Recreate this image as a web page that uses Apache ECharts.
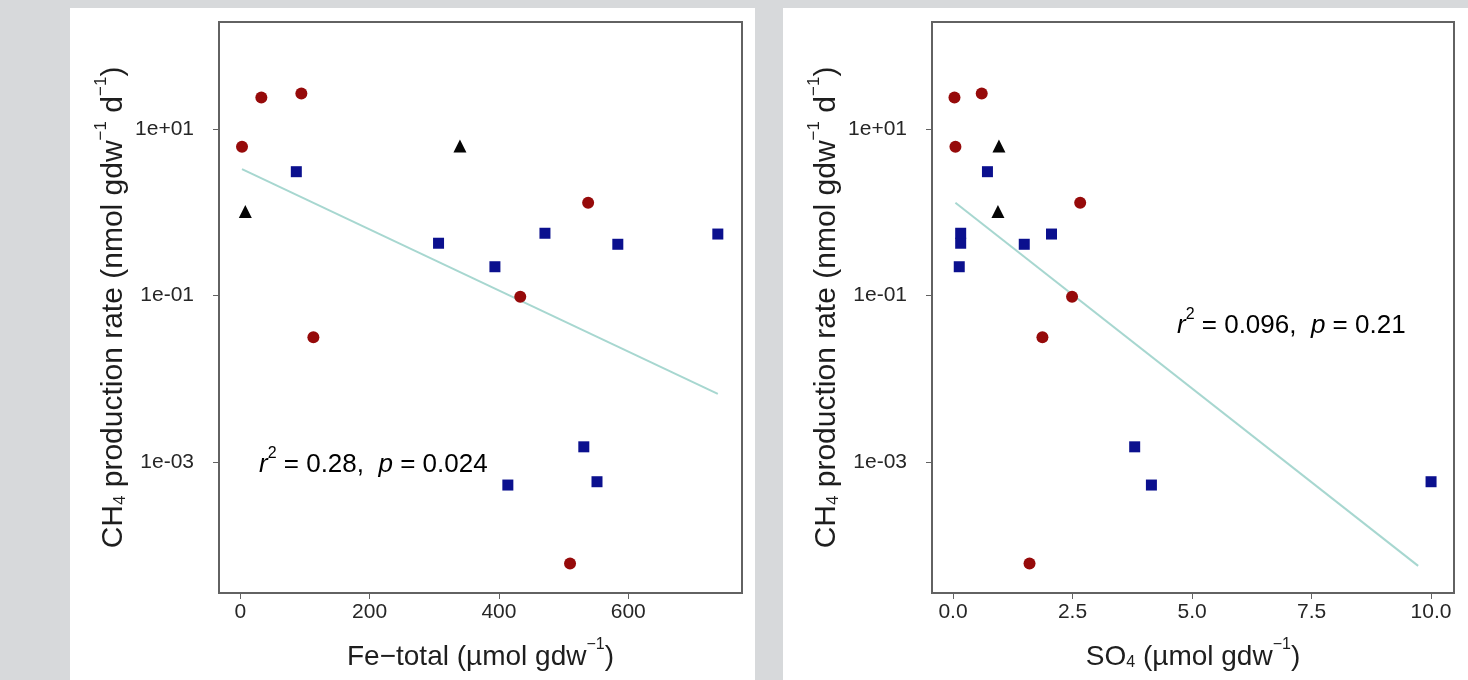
<!DOCTYPE html>
<html>
<head>
<meta charset="utf-8">
<script src="https://cdn.jsdelivr.net/npm/echarts@6/dist/echarts.min.js"></script>
<style>
html,body{margin:0;padding:0;background:#d7d9db;}
#c{width:1468px;height:680px;}
</style>
</head>
<body>
<div id="c"></div>
<script>
// ---- data ----
// red circles
var redCH4 = [6.1, 23.8, 26.6, 1.3, 0.097, 0.0316, 0.000061];
var redFe  = [2.6, 32.5, 94.4, 538, 433, 113, 510];
var redSO4 = [0.05, 0.03, 0.60, 2.66, 2.49, 1.87, 1.60];
// blue squares
var blueCH4 = [3.07, 0.425, 0.56, 0.413, 0.548, 0.222, 0.00153, 0.000532, 0.000583];
var blueFe  = [86.6, 306.6, 471.2, 583.9, 738.6, 393.8, 531.3, 413.8, 551.7];
var blueSO4 = [0.72, 0.16, 0.16, 1.49, 2.06, 0.13, 3.80, 4.15, 10.0];
// black triangles
var blackCH4 = [6.25, 1.02];
var blackFe  = [339.7, 7.7];
var blackSO4 = [0.96, 0.94];
// regression lines (end points)
var fitFeX  = [2.6, 738.6];
var fitFeY  = [3.3, 0.0066];
var fitSO4X = [0.05, 9.73];
var fitSO4Y = [1.3, 0.000057];
// ticks
var yTickValues = [0.001, 0.1, 10];
var yTickLabels = ['1e-03', '1e-01', '1e+01'];
var feTickValues = [0, 200, 400, 600];
var feTickLabels = ['0', '200', '400', '600'];
var so4TickValues = [0, 2.5, 5, 7.5, 10];
var so4TickLabels = ['0.0', '2.5', '5.0', '7.5', '10.0'];
var statsFe = ['0.28', '0.024'];
var statsSO4 = ['0.096', '0.21'];

function pairs(xs, ys) { return xs.map(function (x, i) { return [x, ys[i]]; }); }
function yFmt(v) {
  var lg = Math.log10(v), best = 0, bd = 1e9;
  yTickValues.forEach(function (t, i) { var d = Math.abs(Math.log10(t) - lg); if (d < bd) { bd = d; best = i; } });
  return yTickLabels[best];
}
function labFmt(vals, labs) {
  return function (v) {
    var best = 0, bd = 1e9;
    vals.forEach(function (t, i) { var d = Math.abs(t - v); if (d < bd) { bd = d; best = i; } });
    return labs[best];
  };
}

var FONT = '"Liberation Sans", Arial, Helvetica, sans-serif';
var RED = '#960a0a', BLUE = '#0b108e', BLACK = '#050505', FIT = '#a7d7d0';
var AX = '#626262';
var TXT = '#1e1e1e';
function makeRich(big, small) {
  return {
    a: { fontSize: big, fontFamily: FONT, color: TXT, lineHeight: big + 6, verticalAlign: 'bottom' },
    s: { fontSize: small, fontFamily: FONT, color: TXT, lineHeight: big + 6, verticalAlign: 'top' },
    b: { fontSize: small, fontFamily: FONT, color: TXT, lineHeight: big - 2, verticalAlign: 'bottom' }
  };
}
var xNameRich = makeRich(28, 16);
var yNameRich = makeRich(30, 17);

function xAxisCfg(idx, min, max, vals, labs, name) {
  return {
    type: 'value', gridIndex: idx, min: min, max: max,
    axisLine: { show: false, onZero: false }, splitLine: { show: false },
    axisTick: { show: true, customValues: vals, length: 6, lineStyle: { color: AX, width: 1 } },
    axisLabel: { customValues: vals, formatter: labFmt(vals, labs), fontSize: 21, fontFamily: FONT, color: '#262626', margin: 9 },
    name: name, nameLocation: 'middle', nameGap: 44,
    nameTextStyle: { rich: xNameRich }
  };
}
function yAxisCfg(idx, name) {
  return {
    type: 'log', logBase: 10, gridIndex: idx, min: Math.pow(10, -4.57), max: Math.pow(10, 2.284),
    axisLine: { show: false, onZero: false }, splitLine: { show: false }, minorTick: { show: false },
    axisTick: { show: true, customValues: yTickValues, length: 6, lineStyle: { color: AX, width: 1 } },
    axisLabel: { customValues: yTickValues, formatter: yFmt, fontSize: 21, fontFamily: FONT, color: '#262626', margin: 25 },
    name: name, nameLocation: 'middle', nameGap: 90, nameRotate: 90,
    nameTextStyle: { rich: yNameRich }
  };
}
function scatter(idx, data, color, symbol, size) {
  return { type: 'scatter', xAxisIndex: idx, yAxisIndex: idx, data: data, symbol: symbol, symbolSize: size,
    itemStyle: { color: color, opacity: 1 }, z: 3, silent: true };
}
function fit(idx, data) {
  return { type: 'line', xAxisIndex: idx, yAxisIndex: idx, data: data, showSymbol: false, symbol: 'none',
    lineStyle: { color: FIT, width: 2 }, z: 2, silent: true };
}

var yName = '{a|CH}{b|4}{a| production rate (nmol gdw}{s|−1}{a| d}{s|−1}{a|)}';
var statRich = {
  i: { fontSize: 26, fontFamily: FONT, fontStyle: 'italic', color: '#111', lineHeight: 32, verticalAlign: 'bottom' },
  n: { fontSize: 26, fontFamily: FONT, color: '#111', lineHeight: 32, verticalAlign: 'bottom' },
  s: { fontSize: 16, fontFamily: FONT, color: '#111', lineHeight: 32, verticalAlign: 'top' }
};
function statText(v) { return '{i|r}{s|2}{n| = ' + v[0] + ',  }{i|p}{n| = ' + v[1] + '}'; }

var option = {
  backgroundColor: '#d7d9db',
  animation: false,
  graphic: [
    { type: 'rect', z: -10, silent: true, shape: { x: 70, y: 8, width: 685, height: 672 }, style: { fill: '#ffffff' } },
    { type: 'rect', z: -10, silent: true, shape: { x: 783, y: 8, width: 685, height: 672 }, style: { fill: '#ffffff' } },
    { type: 'text', z: 10, left: 259, top: 446, style: { text: statText(statsFe), rich: statRich } },
    { type: 'text', z: 10, left: 1177, top: 307, style: { text: statText(statsSO4), rich: statRich } }
  ],
  grid: [
    { left: 219, top: 22, width: 523, height: 571, show: true, borderColor: AX, borderWidth: 2, backgroundColor: '#ffffff' },
    { left: 932, top: 22, width: 522, height: 571, show: true, borderColor: AX, borderWidth: 2, backgroundColor: '#ffffff' }
  ],
  xAxis: [
    xAxisCfg(0, -33, 776, feTickValues, feTickLabels, '{a|Fe−total (µmol gdw}{s|−1}{a|)}'),
    xAxisCfg(1, -0.44, 10.48, so4TickValues, so4TickLabels, '{a|SO}{b|4}{a| (µmol gdw}{s|−1}{a|)}')
  ],
  yAxis: [ yAxisCfg(0, yName), yAxisCfg(1, yName) ],
  series: [
    fit(0, pairs(fitFeX, fitFeY)),
    scatter(0, pairs(redFe, redCH4), RED, 'circle', 12),
    scatter(0, pairs(blueFe, blueCH4), BLUE, 'rect', 11),
    scatter(0, pairs(blackFe, blackCH4), BLACK, 'triangle', 13),
    fit(1, pairs(fitSO4X, fitSO4Y)),
    scatter(1, pairs(redSO4, redCH4), RED, 'circle', 12),
    scatter(1, pairs(blueSO4, blueCH4), BLUE, 'rect', 11),
    scatter(1, pairs(blackSO4, blackCH4), BLACK, 'triangle', 13)
  ]
};
var chart = echarts.init(document.getElementById('c'), null, { renderer: 'canvas' });
chart.setOption(option);
</script>
</body>
</html>
